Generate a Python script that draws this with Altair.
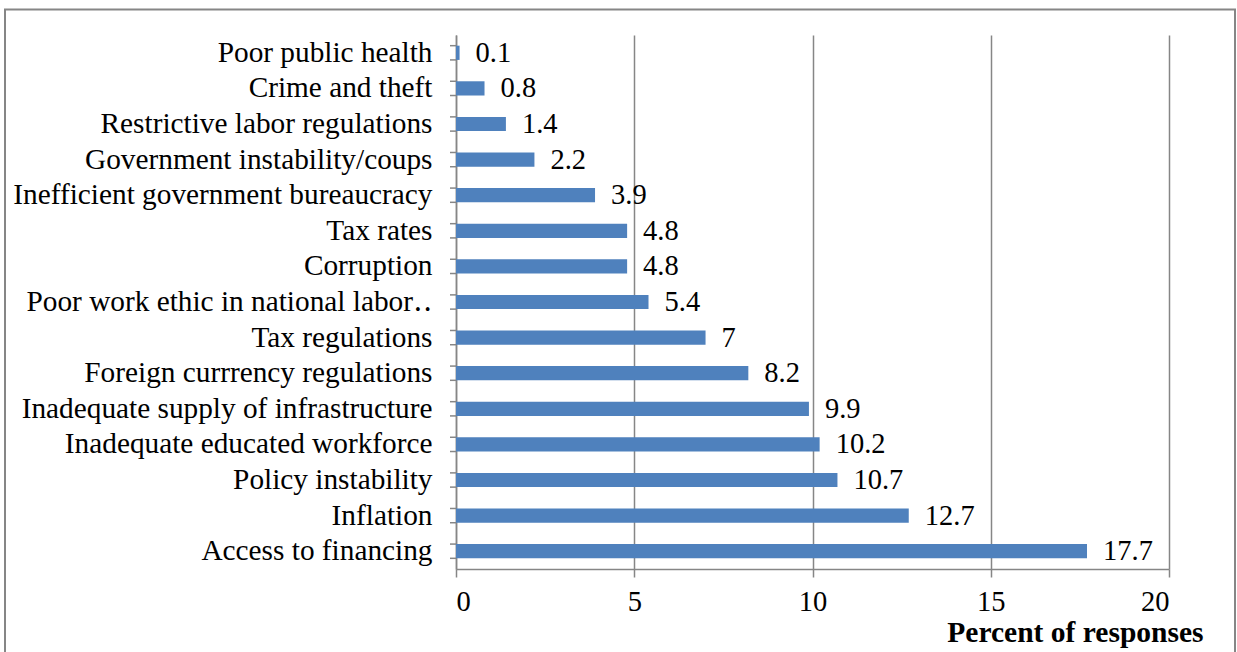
import altair as alt
import pandas as pd

categories = [
    "Poor public health",
    "Crime and theft",
    "Restrictive labor regulations",
    "Government instability/coups",
    "Inefficient government bureaucracy",
    "Tax rates",
    "Corruption",
    "Poor work ethic in national labor\u2025",
    "Tax regulations",
    "Foreign currrency regulations",
    "Inadequate supply of infrastructure",
    "Inadequate educated workforce",
    "Policy instability",
    "Inflation",
    "Access to financing",
]
values = [0.1, 0.8, 1.4, 2.2, 3.9, 4.8, 4.8, 5.4, 7, 8.2, 9.9, 10.2, 10.7, 12.7, 17.7]
x_ticks = [0, 5, 10, 15, 20]

df = pd.DataFrame({"cat": categories, "val": values})

FONT = "Liberation Serif, Times New Roman, DejaVu Serif, serif"
GRAY = "#868686"
BLUE = "#4F81BD"

W, H = 713, 534
PAD_L, PAD_T, PAD_R, PAD_B = 456, 35, 68, 83

yscale = alt.Scale(domain=categories, paddingInner=0.6, paddingOuter=0.3)
xscale = alt.Scale(domain=[0, 20], nice=False)

base = alt.Chart(df)

bars = base.mark_bar(color=BLUE).encode(
    x=alt.X(
        "val:Q",
        scale=xscale,
        axis=alt.Axis(
            values=x_ticks,
            grid=True,
            gridColor=GRAY,
            gridWidth=1.5,
            domainColor=GRAY,
            domainWidth=1.5,
            tickColor=GRAY,
            tickWidth=1.5,
            tickSize=8,
            labelFont=FONT,
            labelFontSize=28.5,
            labelColor="black",
            labelPadding=10,
            title="Percent of responses",
            titleFont=FONT,
            titleFontSize=29.5,
            titleFontWeight="bold",
            titleColor="black",
            titleAlign="right",
            titleBaseline="alphabetic",
            titleX=747,
            titleY=72,
        ),
    ),
    y=alt.Y(
        "cat:N",
        scale=yscale,
        sort=categories,
        axis=alt.Axis(
            title=None,
            ticks=False,
            tickSize=0,
            domainColor=GRAY,
            domainWidth=1.5,
            labelFont=FONT,
            labelFontSize=29.3,
            labelColor="black",
            labelPadding=24,
            labelLimit=0,
        ),
    ),
)

labels = base.mark_text(
    align="left", baseline="middle", dx=16, font=FONT, fontSize=28.5, color="black"
).encode(
    x=alt.X("val:Q", scale=xscale),
    y=alt.Y("cat:N", scale=yscale, sort=categories),
    text=alt.Text("val:Q"),
)

ticks_top = base.mark_rule(color=GRAY, strokeWidth=1.5).encode(
    y=alt.Y("cat:N", scale=yscale, sort=categories, bandPosition=0),
    x=alt.value(-6),
    x2=alt.value(0),
)
ticks_bot = base.mark_rule(color=GRAY, strokeWidth=1.5).encode(
    y=alt.Y("cat:N", scale=yscale, sort=categories, bandPosition=1),
    x=alt.value(-6),
    x2=alt.value(0),
)

frame = alt.Chart(pd.DataFrame({"a": [0]})).mark_rect(
    fill=None, stroke=GRAY, strokeWidth=2
).encode(
    x=alt.value(5 - PAD_L),
    x2=alt.value(1235 - PAD_L),
    y=alt.value(9.5 - PAD_T),
    y2=alt.value(700),
)

chart = (
    alt.layer(frame, bars, ticks_top, ticks_bot, labels)
    .properties(
        width=W,
        height=H,
        autosize=alt.AutoSizeParams(type="none"),
        padding={"left": PAD_L, "top": PAD_T, "right": PAD_R, "bottom": PAD_B},
        background="white",
    )
    .configure_view(stroke=None)
)

chart.save("out.html", embed_options={"renderer": "svg", "actions": False})
